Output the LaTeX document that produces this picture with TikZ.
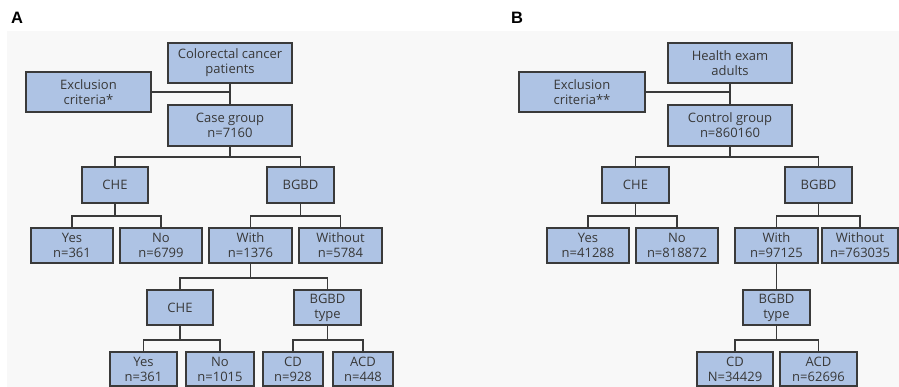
\documentclass[tikz,border=0pt]{standalone}
\usepackage{fontspec}
\setmainfont{Open Sans}
\newfontfamily\panelfont{Liberation Sans}
\usepackage{tikz}
\definecolor{boxblue}{RGB}{174,195,228}
\definecolor{boxline}{RGB}{58,58,58}
\definecolor{boxtext}{RGB}{56,56,56}
\definecolor{panelgray}{RGB}{248,248,248}

\begin{document}
\begin{tikzpicture}[x = 1pt, y = -1pt, line width = 1.6pt,
                        box/.style = {rectangle, draw = boxline, fill = boxblue, text = boxtext,
                                      align = center, inner sep = 0pt,
                                      font = \fontsize{13}{15}\selectfont},
                        panel/.style = {font = \panelfont\bfseries\fontsize{16.5}{16.5}\selectfont}]
      \useasboundingbox (0, 0) rectangle (899, 387);
      \fill [panelgray] (7, 31) rectangle (899, 387);
      \node [panel] (pa) at (17, 18){A};
      \node [panel] (pb) at (517, 18){B};
      % panel A
      \node [box, minimum width = 124pt, minimum height = 40pt] (a1) at (230, 63){Colorectal cancer\\patients};
      \node [box, minimum width = 125pt, minimum height = 40pt] (a2) at (88.5, 92){Exclusion\\criteria*};
      \node [box, minimum width = 124pt, minimum height = 41pt] (a3) at (230, 125.5){Case group\\n=7160};
      \node [box, minimum width = 66pt, minimum height = 36pt] (a4) at (115, 185){CHE};
      \node [box, minimum width = 67pt, minimum height = 36pt] (a5) at (300.5, 185){BGBD};
      \node [box, minimum width = 82pt, minimum height = 35pt] (a6) at (72, 245.5){Yes\\n=361};
      \node [box, minimum width = 82pt, minimum height = 35pt] (a7) at (161, 245.5){No\\n=6799};
      \node [box, minimum width = 83pt, minimum height = 35pt] (a8) at (250.5, 245.5){With\\n=1376};
      \node [box, minimum width = 83pt, minimum height = 35pt] (a9) at (340.5, 245.5){Without\\n=5784};
      \node [box, minimum width = 66pt, minimum height = 35pt] (a10) at (180, 307.5){CHE};
      \node [box, minimum width = 67pt, minimum height = 35pt] (a11) at (327.5, 307.5){BGBD\\type};
      \node [box, minimum width = 67pt, minimum height = 34pt] (a12) at (143.5, 369){Yes\\n=361};
      \node [box, minimum width = 68pt, minimum height = 34pt] (a13) at (220, 369){No\\n=1015};
      \node [box, minimum width = 60pt, minimum height = 34pt] (a14) at (293, 369){CD\\n=928};
      \node [box, minimum width = 60pt, minimum height = 34pt] (a15) at (363, 369){ACD\\n=448};
      \draw [boxline] (a1) -- (a3);
      \draw [boxline] (a2.east) -- (a2.east -| a1.south);
      \draw [boxline] (a3.south) -- ++(0, 10) -| (a4.north);
      \draw [boxline] (a3.south) -- ++(0, 10) -| (a5.north);
      \draw [boxline] (a4.south) -- ++(0, 12) -| (a6.north);
      \draw [boxline] (a4.south) -- ++(0, 12) -| (a7.north);
      \draw [boxline] (a5.south) -- ++(0, 12) -| (a8.north);
      \draw [boxline] (a5.south) -- ++(0, 12) -| (a9.north);
      \draw [boxline] (a8.south) -- ++(0, 14) -| (a10.north);
      \draw [boxline] (a8.south) -- ++(0, 14) -| (a11.north);
      \draw [boxline] (a10.south) -- ++(0, 14) -| (a12.north);
      \draw [boxline] (a10.south) -- ++(0, 14) -| (a13.north);
      \draw [boxline] (a11.south) -- ++(0, 14) -| (a14.north);
      \draw [boxline] (a11.south) -- ++(0, 14) -| (a15.north);
      % panel B
      \node [box, minimum width = 124pt, minimum height = 40pt] (b1) at (730, 63){Health exam\\adults};
      \node [box, minimum width = 126pt, minimum height = 40pt] (b2) at (582, 92){Exclusion\\criteria**};
      \node [box, minimum width = 124pt, minimum height = 41pt] (b3) at (730, 125.5){Control group\\n=860160};
      \node [box, minimum width = 67pt, minimum height = 36pt] (b4) at (635.5, 185){CHE};
      \node [box, minimum width = 67pt, minimum height = 36pt] (b5) at (818.5, 185){BGBD};
      \node [box, minimum width = 82pt, minimum height = 35pt] (b6) at (588, 245.5){Yes\\n=41288};
      \node [box, minimum width = 82pt, minimum height = 35pt] (b7) at (677, 245.5){No\\n=818872};
      \node [box, minimum width = 83pt, minimum height = 35pt] (b8) at (776.5, 245.5){With\\n=97125};
      \node [box, minimum width = 76pt, minimum height = 35pt] (b9) at (860, 245.5){Without\\n=763035};
      \node [box, minimum width = 67pt, minimum height = 35pt] (b10) at (776.5, 307.5){BGBD\\type};
      \node [box, minimum width = 76pt, minimum height = 34pt] (b11) at (735, 369){CD\\N=34429};
      \node [box, minimum width = 77pt, minimum height = 34pt] (b12) at (818.5, 369){ACD\\n=62696};
      \draw [boxline] (b1) -- (b3);
      \draw [boxline] (b2.east) -- (b2.east -| b1.south);
      \draw [boxline] (b3.south) -- ++(0, 10) -| (b4.north);
      \draw [boxline] (b3.south) -- ++(0, 10) -| (b5.north);
      \draw [boxline] (b4.south) -- ++(0, 12) -| (b6.north);
      \draw [boxline] (b4.south) -- ++(0, 12) -| (b7.north);
      \draw [boxline] (b5.south) -- ++(0, 12) -| (b8.north);
      \draw [boxline] (b5.south) -- ++(0, 12) -| (b9.north);
      \draw [boxline] (b8) -- (b10);
      \draw [boxline] (b10.south) -- ++(0, 14) -| (b11.north);
      \draw [boxline] (b10.south) -- ++(0, 14) -| (b12.north);
    \end{tikzpicture}
\end{document}
